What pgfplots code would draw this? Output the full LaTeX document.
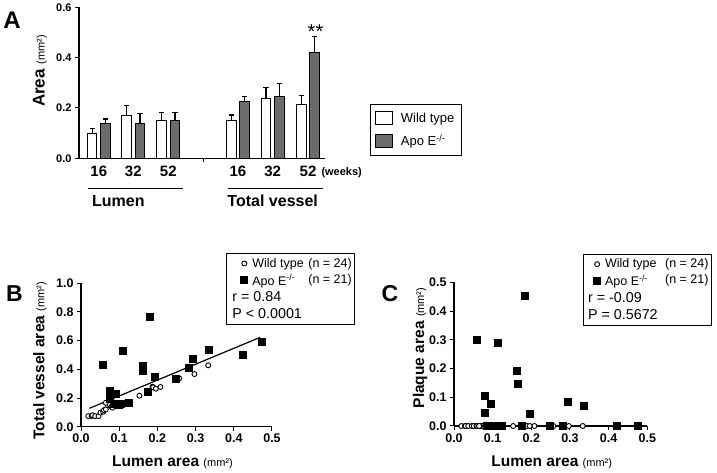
\documentclass[border=0pt]{standalone}
\usepackage{fontspec}
\setmainfont{Liberation Sans}
\usepackage{pgfplots}
\pgfplotsset{compat=1.18}
\begin{document}
\begin{tikzpicture}[x=1pt,y=1pt]
\useasboundingbox (0,0) rectangle (717,473);
\pgfplotsset{
  panel/.style={scale only axis, clip=false, axis x line*=bottom, axis y line*=left,
    axis line style={-, line width=1.1pt}, tick align=outside, major tick length=4pt,
    tick style={line width=1pt, black}, /pgf/number format/assume math mode=true,
    enlargelimits=false},
  sclegend/.style={legend style={anchor=north west, draw=black, line width=0.8pt,
    font=\fontsize{12.5}{14}\selectfont, cells={anchor=west}, row sep=1.2pt, inner xsep=1pt, inner ysep=2.5pt},
    legend image code/.code={\path[draw=none] (0pt,0pt) -- (23pt,0pt); \draw[##1, draw=none] plot coordinates {(17pt,0pt)};}},
  wt/.style={only marks, mark=*, mark size=2.5pt, mark options={fill=white, draw=black, line width=0.9pt}},
  apo/.style={only marks, mark=square*, mark size=3.5pt, mark options={fill=black, draw=black}},
}
% ---------------- Panel A ----------------
\begin{axis}[panel, at={(79pt,314.7pt)}, anchor=south west, width=246pt, height=151pt,
  xmin=0, xmax=246, ymin=0, ymax=0.6,
  ybar, bar width=9.5pt,
  error bars/y dir=plus, error bars/y explicit,
  error bars/error bar style={line width=1.3pt, black},
  error bars/error mark options={rotate=90, mark size=2.7pt, line width=1.3pt, black},
  ytick={0,0.2,0.4,0.6}, yticklabels={0.0,0.2,0.4,0.6},
  yticklabel style={font=\bfseries\fontsize{11}{12}\selectfont},
  xtick={19.8,54.3,89.3,158.9,193.7,229}, xticklabels={16,32,52,16,32,52},
  xticklabel style={font=\bfseries\fontsize{15}{15}\selectfont},
  major x tick style={draw=none},
  legend style={at={(axis description cs:1.183,0.358)}, anchor=north west, draw=black, line width=0.8pt,
    font=\fontsize{13}{14}\selectfont, cells={anchor=west}, row sep=7pt, inner xsep=5pt, inner ysep=6pt},
  legend image code/.code={\draw[#1, line width=0.9pt] (0pt,-6.3pt) rectangle (16.6pt,6.3pt);},
]
\addplot[bar shift=-6.6pt, fill=white, draw=black, line width=1pt] coordinates {
  (19.8,0.097) +- (0,0.020)
  (54.3,0.169) +- (0,0.042)
  (89.3,0.150) +- (0,0.033)
  (158.9,0.152) +- (0,0.020)
  (193.7,0.236) +- (0,0.046)
  (229,0.212) +- (0,0.038)
};
\addplot[bar shift=6.6pt, fill=black!58, draw=black, line width=1pt] coordinates {
  (19.8,0.139) +- (0,0.017)
  (54.3,0.139) +- (0,0.040)
  (89.3,0.152) +- (0,0.029)
  (158.9,0.225) +- (0,0.020)
  (193.7,0.245) +- (0,0.053)
  (229,0.421) +- (0,0.062)
};
\legend{\hspace{6pt}Wild type, \hspace{6pt}Apo E\textsuperscript{-/-}}
\draw[line width=1pt] (axis cs:124,0) -- ++(0,-4pt);
\end{axis}
\node[rotate=90] at (40,402) {\bfseries\fontsize{17}{17}\selectfont Area \fontsize{11}{11}\mdseries\selectfont(mm²)};
\node at (12,453) {\bfseries\fontsize{24}{24}\selectfont A};
\node at (341.7,300) {\bfseries\fontsize{11}{11}\selectfont (weeks)};
\node at (315.5,441) {\fontsize{20}{20}\selectfont **};
\draw[line width=1pt] (88,284.7) -- (182.7,284.7);
\draw[line width=1pt] (228,284.7) -- (323,284.7);
\node at (118.3,272) {\bfseries\fontsize{16}{16}\selectfont Lumen};
\node at (272.7,272) {\bfseries\fontsize{16}{16}\selectfont Total vessel};
% ---------------- Panel B ----------------
\begin{axis}[panel, sclegend, at={(81pt,46.3pt)}, anchor=south west, width=191pt, height=143.4pt,
  xmin=0, xmax=0.5, ymin=0, ymax=1,
  xtick={0,0.1,0.2,0.3,0.4,0.5}, xticklabels={0.0,0.1,0.2,0.3,0.4,0.5},
  ytick={0,0.2,0.4,0.6,0.8,1.0}, yticklabels={0.0,0.2,0.4,0.6,0.8,1.0},
  ticklabel style={font=\bfseries\fontsize{12.5}{12.5}\selectfont},
  legend style={at={(axis description cs:0.759,1.209)}},
]
\addplot[wt] coordinates {
 (0.019,0.074) (0.028,0.074) (0.030,0.080) (0.037,0.074) (0.046,0.074) (0.051,0.098)
 (0.058,0.105) (0.060,0.115) (0.065,0.121) (0.070,0.149) (0.074,0.156) (0.080,0.140)
 (0.082,0.133) (0.065,0.167) (0.153,0.216) (0.187,0.279) (0.189,0.274) (0.196,0.265)
 (0.208,0.277) (0.250,0.326) (0.254,0.330) (0.257,0.337) (0.297,0.367) (0.333,0.428)
};
\addlegendentry{\makebox[56pt][l]{Wild type}(n = 24)}
\addplot[apo] coordinates {
 (0.056,0.435) (0.180,0.770) (0.110,0.530) (0.161,0.426) (0.162,0.393) (0.194,0.347)
 (0.076,0.251) (0.091,0.228) (0.076,0.193) (0.092,0.158) (0.104,0.158) (0.098,0.152)
 (0.124,0.170) (0.174,0.242) (0.248,0.337) (0.282,0.409) (0.293,0.474) (0.334,0.535)
 (0.422,0.505) (0.474,0.593) (0.085,0.160)
};
\addlegendentry{\makebox[56pt][l]{Apo E\textsuperscript{-/-}}\raisebox{2pt}{(n = 21)}}
\addlegendimage{empty legend}
\addlegendentry{\hspace{-20pt}\fontsize{14.3}{15}\selectfont r = 0.84}
\addlegendimage{empty legend}
\addlegendentry{\hspace{-20pt}\fontsize{14.3}{15}\selectfont P < 0.0001}
\addplot[no marks, line width=1.2pt, black, forget plot] coordinates {(0.022,0.128) (0.469,0.623)};
\end{axis}
\node[rotate=90] at (40,112.2) {\bfseries\fontsize{15.5}{15.5}\selectfont Total vessel area \fontsize{11}{11}\mdseries\selectfont(mm²)};
\node at (172.5,10.3) {\bfseries\fontsize{15.5}{15.5}\selectfont Lumen area \fontsize{11}{11}\mdseries\selectfont(mm²)};
\node at (14.5,179.3) {\bfseries\fontsize{23}{23}\selectfont B};
% ---------------- Panel C ----------------
\begin{axis}[panel, sclegend, at={(454pt,47pt)}, anchor=south west, width=193.3pt, height=143.7pt,
  xmin=0, xmax=0.5, ymin=0, ymax=0.5,
  xtick={0,0.1,0.2,0.3,0.4,0.5}, xticklabels={0.0,0.1,0.2,0.3,0.4,0.5},
  ytick={0,0.1,0.2,0.3,0.4,0.5}, yticklabels={0.0,0.1,0.2,0.3,0.4,0.5},
  ticklabel style={font=\bfseries\fontsize{12.5}{12.5}\selectfont},
  legend style={at={(axis description cs:0.666,1.197)}},
  legend image code/.code={\path[draw=none] (0pt,0pt) -- (19pt,0pt); \draw[#1, draw=none] plot coordinates {(13pt,0pt)};},
]
\addplot[wt] coordinates {
 (0.019,0) (0.028,0) (0.030,0) (0.037,0) (0.046,0) (0.051,0)
 (0.058,0) (0.060,0) (0.065,0) (0.070,0) (0.074,0) (0.080,0)
 (0.082,0) (0.065,0) (0.153,0) (0.187,0) (0.189,0) (0.196,0)
 (0.208,0) (0.250,0) (0.254,0) (0.257,0) (0.297,0) (0.333,0)
};
\addlegendentry{\makebox[60pt][l]{Wild type}(n = 24)}
\addplot[apo] coordinates {
 (0.059,0.299) (0.113,0.291) (0.182,0.455) (0.163,0.191) (0.165,0.147) (0.080,0.106)
 (0.095,0.077) (0.080,0.046) (0.197,0.044) (0.295,0.085) (0.336,0.071)
 (0.085,0) (0.092,0) (0.098,0) (0.104,0) (0.124,0) (0.174,0) (0.248,0) (0.282,0)
 (0.422,0) (0.474,0)
};
\addlegendentry{\makebox[60pt][l]{Apo E\textsuperscript{-/-}}\raisebox{2pt}{(n = 21)}}
\addlegendimage{empty legend}
\addlegendentry{\hspace{-17pt}\fontsize{14.3}{15}\selectfont r = -0.09}
\addlegendimage{empty legend}
\addlegendentry{\hspace{-17pt}\fontsize{14.3}{15}\selectfont P = 0.5672}
\end{axis}
\node[rotate=90] at (420,125) {\bfseries\fontsize{15.5}{15.5}\selectfont Plaque area \fontsize{11}{11}\mdseries\selectfont(mm²)};
\node at (551.7,10.7) {\bfseries\fontsize{15.5}{15.5}\selectfont Lumen area \fontsize{11}{11}\mdseries\selectfont(mm²)};
\node at (390,179) {\bfseries\fontsize{23}{23}\selectfont C};
\end{tikzpicture}
\end{document}
